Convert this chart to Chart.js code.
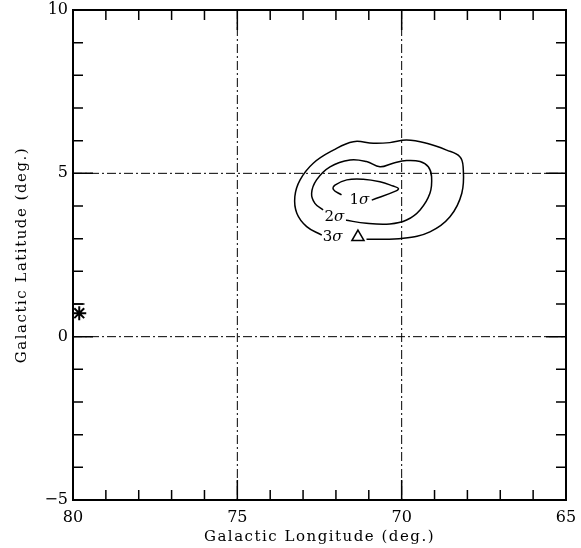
<!DOCTYPE html>
<html>
<head>
<meta charset="utf-8">
<script src="https://cdn.jsdelivr.net/npm/chart.js@4.4.1/dist/chart.umd.min.js"></script>
<style>
  html, body { margin: 0; padding: 0; background: #fff; }
  #wrap { width: 581px; height: 548px; }
</style>
</head>
<body>
<div id="wrap"><canvas id="skyChart"></canvas></div>
<script>
// Contornos de confiança (longitude, latitude em graus)
const sigma3Lon = [71.07, 69.95, 69.14, 68.53, 68.17, 68.13, 68.23, 68.63, 69.24, 69.85, 70.36, 70.86, 71.47, 72.08, 72.69, 73.09, 73.25, 73.19, 72.89, 72.43];
const sigma3Lat = [2.98, 3.01, 3.21, 3.67, 4.39, 5.20, 5.51, 5.71, 5.92, 6.02, 5.94, 5.92, 5.97, 5.71, 5.31, 4.80, 4.29, 3.78, 3.37, 3.11];

const sigma2Lon = [71.73, 71.07, 70.36, 69.85, 69.44, 69.14, 69.09, 69.19, 69.44, 69.85, 70.26, 70.66, 71.07, 71.57, 72.18, 72.59, 72.74, 72.64, 72.39];
const sigma2Lat = [3.57, 3.47, 3.45, 3.57, 3.88, 4.39, 4.90, 5.20, 5.36, 5.39, 5.31, 5.20, 5.36, 5.41, 5.20, 4.80, 4.39, 4.08, 3.88];

const sigma1Lon = [70.91, 70.15, 70.10, 70.26, 70.66, 71.17, 71.67, 72.03, 72.08, 71.83];
const sigma1Lat = [4.18, 4.47, 4.54, 4.61, 4.74, 4.82, 4.80, 4.64, 4.51, 4.34];

// Rótulos dos contornos
const contourLabels = ['1σ', '2σ', '3σ'];
const labelLon = [71.27, 72.03, 72.08];
const labelLat = [4.18, 3.67, 3.06];

// Fontes marcadas
const triangleLon = [71.33];
const triangleLat = [3.05];
const starLon = [79.81];
const starLat = [0.72];
const capLon = [79.97, 79.65];
const capLat = [1.0, 1.0];

// Eixos
const xTicks = [80, 75, 70, 65];
const yTicks = [-5, 0, 5, 10];
const xGridLines = [75, 70];
const yGridLines = [5, 0];

const toPoints = (xs, ys) => xs.map((x, i) => ({ x: x, y: ys[i] }));

const serif = "'DejaVu Serif', 'Liberation Serif', serif";

// Plugin: linhas traço-ponto, marcas internas e moldura
const framePlugin = {
    id: 'frame',
    afterLayout(chart) {
        // só os títulos dos eixos ganham espaçamento entre letras
        Object.values(chart.scales).forEach(s => {
            if (s._spaced) return;
            const orig = s.drawTitle;
            s.drawTitle = function () {
                this.ctx.letterSpacing = '1.5px';
                orig.apply(this, arguments);
                this.ctx.letterSpacing = '0px';
            };
            s._spaced = true;
        });
    },
    beforeDatasetsDraw(chart) {
        const { ctx, chartArea: a, scales: { x, y } } = chart;
        ctx.save();
        ctx.strokeStyle = '#000';
        ctx.lineWidth = 1;
        ctx.setLineDash([9, 3, 2, 3]);
        xGridLines.forEach(v => {
            const px = x.getPixelForValue(v);
            ctx.beginPath(); ctx.moveTo(px, a.top); ctx.lineTo(px, a.bottom); ctx.stroke();
        });
        yGridLines.forEach(v => {
            const py = y.getPixelForValue(v);
            ctx.beginPath(); ctx.moveTo(a.left, py); ctx.lineTo(a.right, py); ctx.stroke();
        });
        ctx.setLineDash([]);
        ctx.lineWidth = 1.5;
        for (let v = 66; v < 80; v++) {
            const len = v % 5 === 0 ? 20 : 10;
            const px = x.getPixelForValue(v);
            ctx.beginPath();
            ctx.moveTo(px, a.bottom); ctx.lineTo(px, a.bottom - len);
            ctx.moveTo(px, a.top); ctx.lineTo(px, a.top + len);
            ctx.stroke();
        }
        for (let v = -4; v < 10; v++) {
            const len = v % 5 === 0 ? 20 : 10;
            const py = y.getPixelForValue(v);
            ctx.beginPath();
            ctx.moveTo(a.left, py); ctx.lineTo(a.left + len, py);
            ctx.moveTo(a.right, py); ctx.lineTo(a.right - len, py);
            ctx.stroke();
        }
        ctx.lineWidth = 2;
        ctx.strokeRect(a.left, a.top, a.right - a.left, a.bottom - a.top);
        ctx.restore();
    },
    afterDatasetsDraw(chart) {
        const { ctx, scales: { x, y } } = chart;
        ctx.save();
        ctx.textBaseline = 'middle';
        contourLabels.forEach((t, i) => {
            const px = x.getPixelForValue(labelLon[i]);
            const py = y.getPixelForValue(labelLat[i]);
            ctx.fillStyle = '#fff';
            ctx.fillRect(px - 11, py - 8, 22, 16);
            ctx.fillStyle = '#000';
            ctx.font = '15px ' + serif;
            ctx.textAlign = 'right';
            ctx.fillText(t[0], px - 1, py);
            ctx.font = 'italic 15px ' + serif;
            ctx.textAlign = 'left';
            ctx.fillText(t.slice(1), px - 1, py);
        });
        ctx.restore();
    }
};

const lineStyle = {
    showLine: true,
    borderColor: '#000',
    borderWidth: 1.5,
    pointRadius: 0,
    fill: false
};

const ctx = document.getElementById('skyChart').getContext('2d');
const skyChart = new Chart(ctx, {
    type: 'scatter',
    data: {
        datasets: [
            Object.assign({ data: toPoints(sigma3Lon, sigma3Lat), tension: 0.4 }, lineStyle),
            Object.assign({ data: toPoints(sigma2Lon, sigma2Lat), tension: 0.4 }, lineStyle),
            Object.assign({ data: toPoints(sigma1Lon, sigma1Lat), tension: 0.4 }, lineStyle),
            Object.assign({ data: toPoints(capLon, capLat), tension: 0 }, lineStyle),
            {
                data: toPoints(triangleLon, triangleLat),
                pointStyle: 'triangle',
                pointRadius: 7,
                borderColor: '#000',
                backgroundColor: '#fff',
                borderWidth: 1.5
            },
            {
                data: toPoints(starLon, starLat),
                pointStyle: 'star',
                pointRadius: 7,
                borderColor: '#000',
                backgroundColor: '#000',
                borderWidth: 2
            }
        ]
    },
    options: {
        responsive: true,
        maintainAspectRatio: false,
        animation: false,
        layout: { padding: { top: 10, right: 15, left: 0, bottom: 0 } },
        plugins: { legend: { display: false }, tooltip: { enabled: false } },
        scales: {
            x: {
                type: 'linear',
                min: 65,
                max: 80,
                reverse: true,
                grid: { display: false, drawTicks: false },
                border: { display: false },
                afterBuildTicks: s => { s.ticks = xTicks.map(v => ({ value: v })); },
                afterFit: s => { s.height = 48; s.paddingLeft = 0; s.paddingRight = 0; },
                ticks: {
                    padding: 8,
                    color: '#000',
                    maxRotation: 0,
                    font: { family: serif, size: 16 }
                },
                title: {
                    display: true,
                    text: 'Galactic Longitude (deg.)',
                    color: '#000',
                    padding: { top: 0, bottom: 2 },
                    font: { family: serif, size: 15 }
                }
            },
            y: {
                type: 'linear',
                min: -5,
                max: 10,
                grid: { display: false, drawTicks: false },
                border: { display: false },
                afterBuildTicks: s => { s.ticks = yTicks.map(v => ({ value: v })); },
                afterFit: s => { s.width = 73; s.paddingTop = 0; s.paddingBottom = 0; },
                ticks: {
                    padding: 5,
                    color: '#000',
                    font: { family: serif, size: 16 },
                    callback: v => String(v).replace('-', '\u2212')
                },
                title: {
                    display: true,
                    text: 'Galactic Latitude (deg.)',
                    color: '#000',
                    padding: { top: 13, bottom: 0 },
                    font: { family: serif, size: 15 }
                }
            }
        }
    },
    plugins: [framePlugin]
});
</script>
</body>
</html>
